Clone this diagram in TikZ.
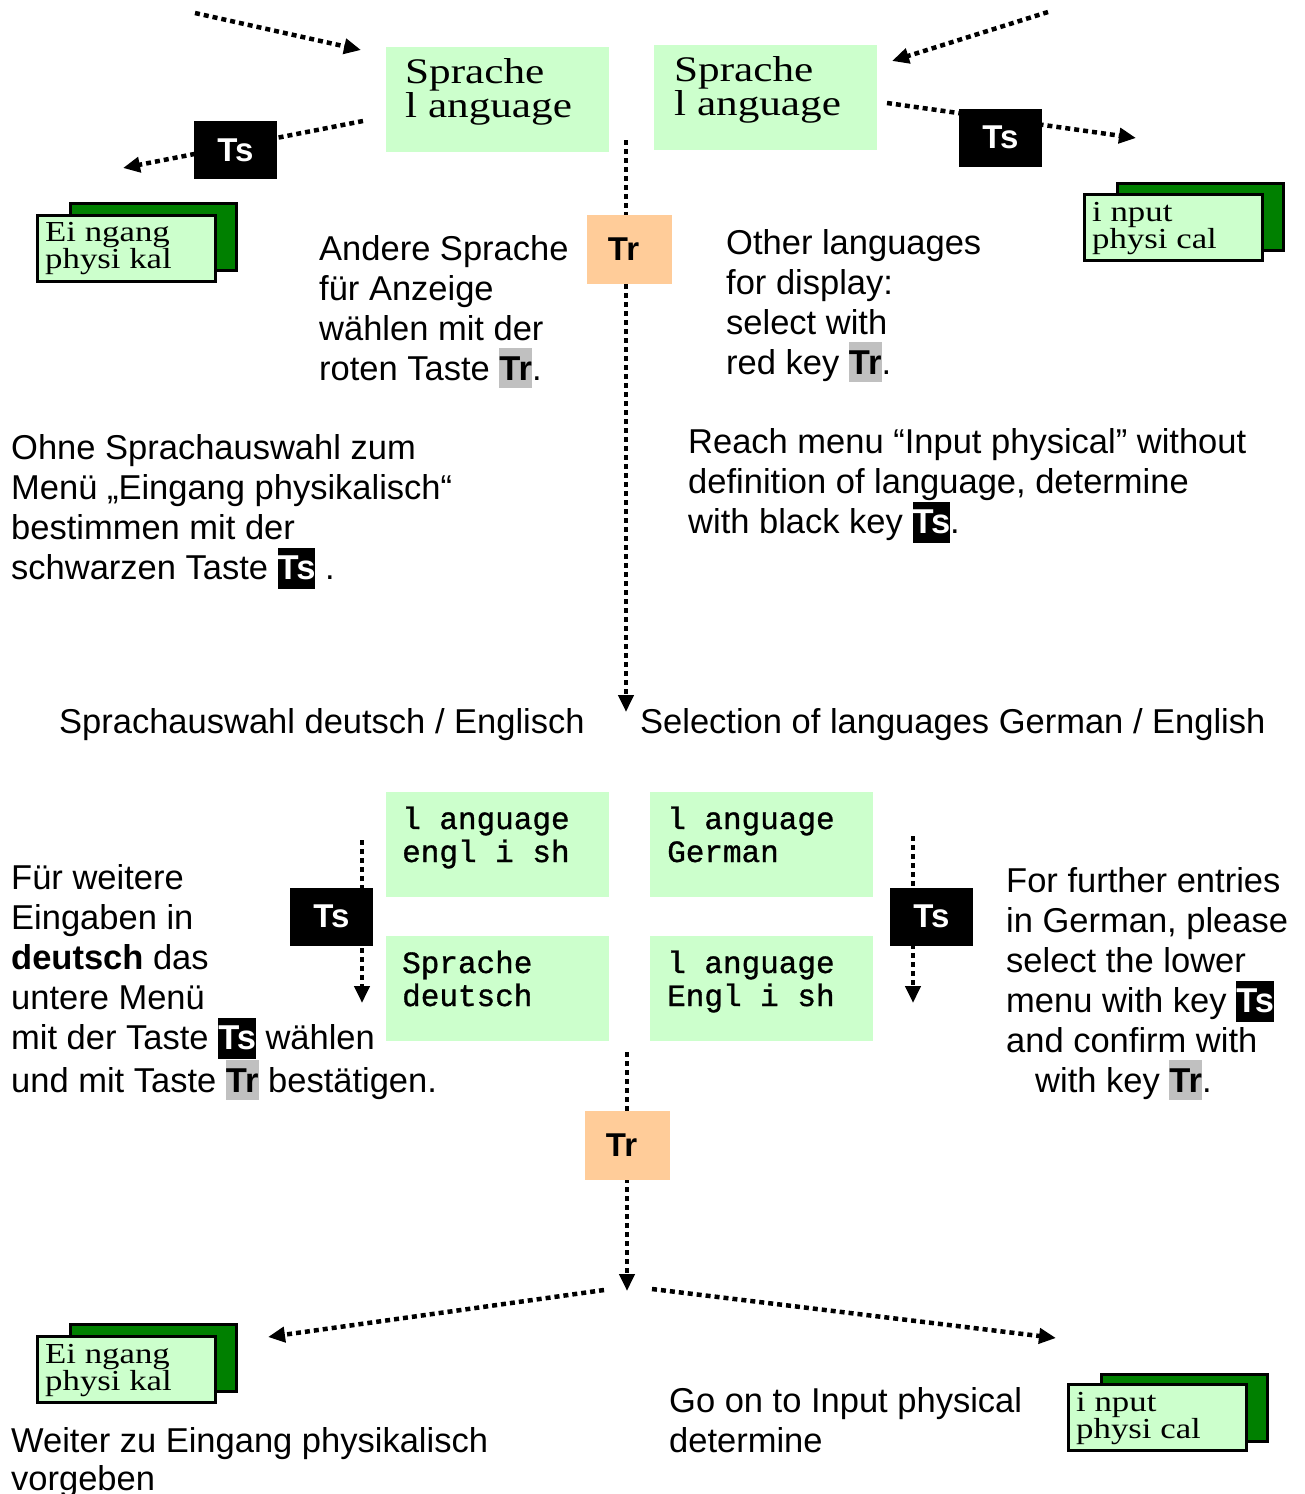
\documentclass[tikz,border=0pt]{standalone}
\usepackage{fontspec}
\setmainfont{Liberation Sans}
\newfontfamily\menuserif[FakeStretch=1.2]{Liberation Serif}
\newfontfamily\menumono[FakeBold=1]{Liberation Mono}
\usetikzlibrary{arrows.meta}
\definecolor{menugreen}{HTML}{CCFFCC}
\definecolor{cardgreen}{HTML}{008000}
\definecolor{keyorange}{HTML}{FFCC99}
\definecolor{keygray}{HTML}{C0C0C0}
% inline key symbols inside running text
\newcommand\keyTs{{\setlength{\fboxsep}{0pt}\colorbox{black}{\rule[-10pt]{0pt}{41pt}\textcolor{white}{\bfseries Ts}}}}
\newcommand\keyTr{{\setlength{\fboxsep}{0pt}\colorbox{keygray}{\rule[-8pt]{0pt}{40pt}\bfseries Tr}}}
\begin{document}
% multi-line texts are placed by the baseline of their last line
\begin{tikzpicture}[x=1pt,y=-1pt,
  body/.style={anchor=base west, inner sep=0pt, align=left, font=\fontsize{34.5}{40}\selectfont},
  menubox/.style={fill=menugreen, draw=none, minimum width=223pt, minimum height=105pt, anchor=north west, inner sep=0pt},
  menutext/.style={anchor=base west, inner sep=0pt, align=left, font=\menuserif\fontsize{36}{34}\selectfont},
  monotext/.style={anchor=base west, inner sep=0pt, align=left, font=\menumono\fontsize{31}{33}\selectfont},
  backcard/.style={fill=cardgreen, draw=black, line width=3pt, minimum width=166pt, minimum height=67pt, anchor=north west, inner sep=0pt},
  frontcard/.style={fill=menugreen, draw=black, line width=3pt, minimum width=178pt, minimum height=66pt, anchor=north west, inner sep=0pt},
  cardtext/.style={anchor=base west, inner sep=0pt, align=left, font=\menuserif\fontsize{29}{27}\selectfont},
  flow/.style={line width=4.5pt, dash pattern=on 5pt off 4pt, -{Triangle[length=17pt,width=15pt]}},
  tsbox/.style={fill=black, text=white, font=\bfseries\fontsize{33}{33}\selectfont, minimum width=83pt, minimum height=58pt, inner sep=0pt},
  trbox/.style={fill=keyorange, font=\bfseries\fontsize{33}{33}\selectfont, minimum width=85pt, minimum height=69pt, inner sep=0pt},
]
\useasboundingbox (0,0) rectangle (1305,1494);

% ---------- upper part: language menus ----------
\node[menubox] (sprL) at (386,47) {};
\node[menutext] (sprLt) at (405,117) {Sprache\\l anguage};
\node[menubox] (sprR) at (654,45) {};
\node[menutext] (sprRt) at (674,115) {Sprache\\l anguage};

% free ends of the upper connectors
\coordinate (inL0) at (195,13);
\coordinate (inL1) at (361,50);
\coordinate (tsL0) at (363,121);
\coordinate (tsL1) at (123,168);
\coordinate (inR0) at (1048,12);
\coordinate (inR1) at (892,61);
\coordinate (tsR0) at (887,103);
\coordinate (tsR1) at (1136,138);
\coordinate (mid0) at (626,140);
\coordinate (mid1) at (626,712);

\draw[flow] (inL0) -- (inL1);
\draw[flow] (tsL0) -- (tsL1);
\draw[flow] (inR0) -- (inR1);
\draw[flow] (tsR0) -- (tsR1);
\draw[flow] (mid0) -- (mid1);

\node[tsbox] (tsL) at (235.5,150) {Ts};
\node[tsbox] (tsR) at (1000.5,137.5) {Ts};
\node[trbox] (trU) at (629.5,249.5) {\hspace*{-12pt}Tr};

% cards "Eingang physikalisch" / "input physical"
\node[backcard] (cardLb) at (69,202) {};
\node[frontcard] (cardLf) at (36,214) {};
\node[cardtext] (cardLt) at (45,268) {Ei ngang\\physi kal};
\node[backcard] (cardRb) at (1116,182) {};
\node[frontcard] (cardRf) at (1083,193) {};
\node[cardtext] (cardRt) at (1092,248) {i nput\\physi cal};

\node[body] (andere) at (319,380) {Andere Sprache\\für Anzeige\\wählen mit der\\roten Taste \keyTr.};
\node[body] (other) at (726,374) {Other languages\\for display:\\select with\\red key \keyTr.};
\node[body] (ohne) at (11,579) {Ohne Sprachauswahl zum\\Menü „Eingang physikalisch“\\bestimmen mit der\\schwarzen Taste \keyTs\ .};
\node[body] (reach) at (688,533) {Reach menu “Input physical” without\\definition of language, determine\\with black key \keyTs.};

\node[body] (selDE) at (59,733) {Sprachauswahl deutsch / Englisch};
\node[body] (selEN) at (640,733) {Selection of languages German / English};

% ---------- lower part: choice German / English ----------
\node[menubox] (engA) at (386,792) {};
\node[monotext] (engAt) at (402,862) {l anguage\\engl i sh};
\node[menubox] (gerA) at (650,792) {};
\node[monotext] (gerAt) at (667,862) {l anguage\\German};
\node[menubox] (deuB) at (386,936) {};
\node[monotext] (deuBt) at (402,1006) {Sprache\\deutsch};
\node[menubox] (engB) at (650,936) {};
\node[monotext] (engBt) at (667,1006) {l anguage\\Engl i sh};

\coordinate (dnL0) at (362,840);
\coordinate (dnL1) at (362,1003);
\coordinate (dnR0) at (913,836);
\coordinate (dnR1) at (913,1003);
\coordinate (low0) at (627,1052);
\coordinate (low1) at (627,1291);
\coordinate (outL0) at (604,1290);
\coordinate (outL1) at (268,1337);
\coordinate (outR0) at (652,1289);
\coordinate (outR1) at (1056,1338);

\draw[flow] (dnL0) -- (dnL1);
\draw[flow] (dnR0) -- (dnR1);
\draw[flow] (low0) -- (low1);
\draw[flow] (outL0) -- (outL1);
\draw[flow] (outR0) -- (outR1);

\node[tsbox] (tsDL) at (331.5,916.5) {Ts};
\node[tsbox] (tsDR) at (931.5,916.5) {Ts};
\node[trbox] (trD) at (627.5,1145.5) {\hspace*{-12pt}Tr};

\node[body] (fuer) at (11,1092) {Für weitere\\Eingaben in\\\textbf{deutsch} das\\untere Menü\\mit der Taste \keyTs{} wählen\\und mit Taste \keyTr{} bestätigen.};
\node[body] (further) at (1006,1092) {For further entries\\in German, please\\select the lower\\menu with key \keyTs\\and confirm with\\\hspace*{29pt}with key \keyTr.};

\node[backcard] (cardLLb) at (69,1323) {};
\node[frontcard] (cardLLf) at (36,1335) {};
\node[cardtext] (cardLLt) at (45,1390) {Ei ngang\\physi kal};
\node[backcard] (cardLRb) at (1100,1373) {};
\node[frontcard] (cardLRf) at (1067,1383) {};
\node[cardtext] (cardLRt) at (1076,1438) {i nput\\physi cal};

\node[body, font=\fontsize{34.5}{38}\selectfont] (weiter) at (11,1490) {Weiter zu Eingang physikalisch\\vorgeben};
\node[body] (goon) at (669,1452) {Go on to Input physical\\determine};
\end{tikzpicture}
\end{document}
